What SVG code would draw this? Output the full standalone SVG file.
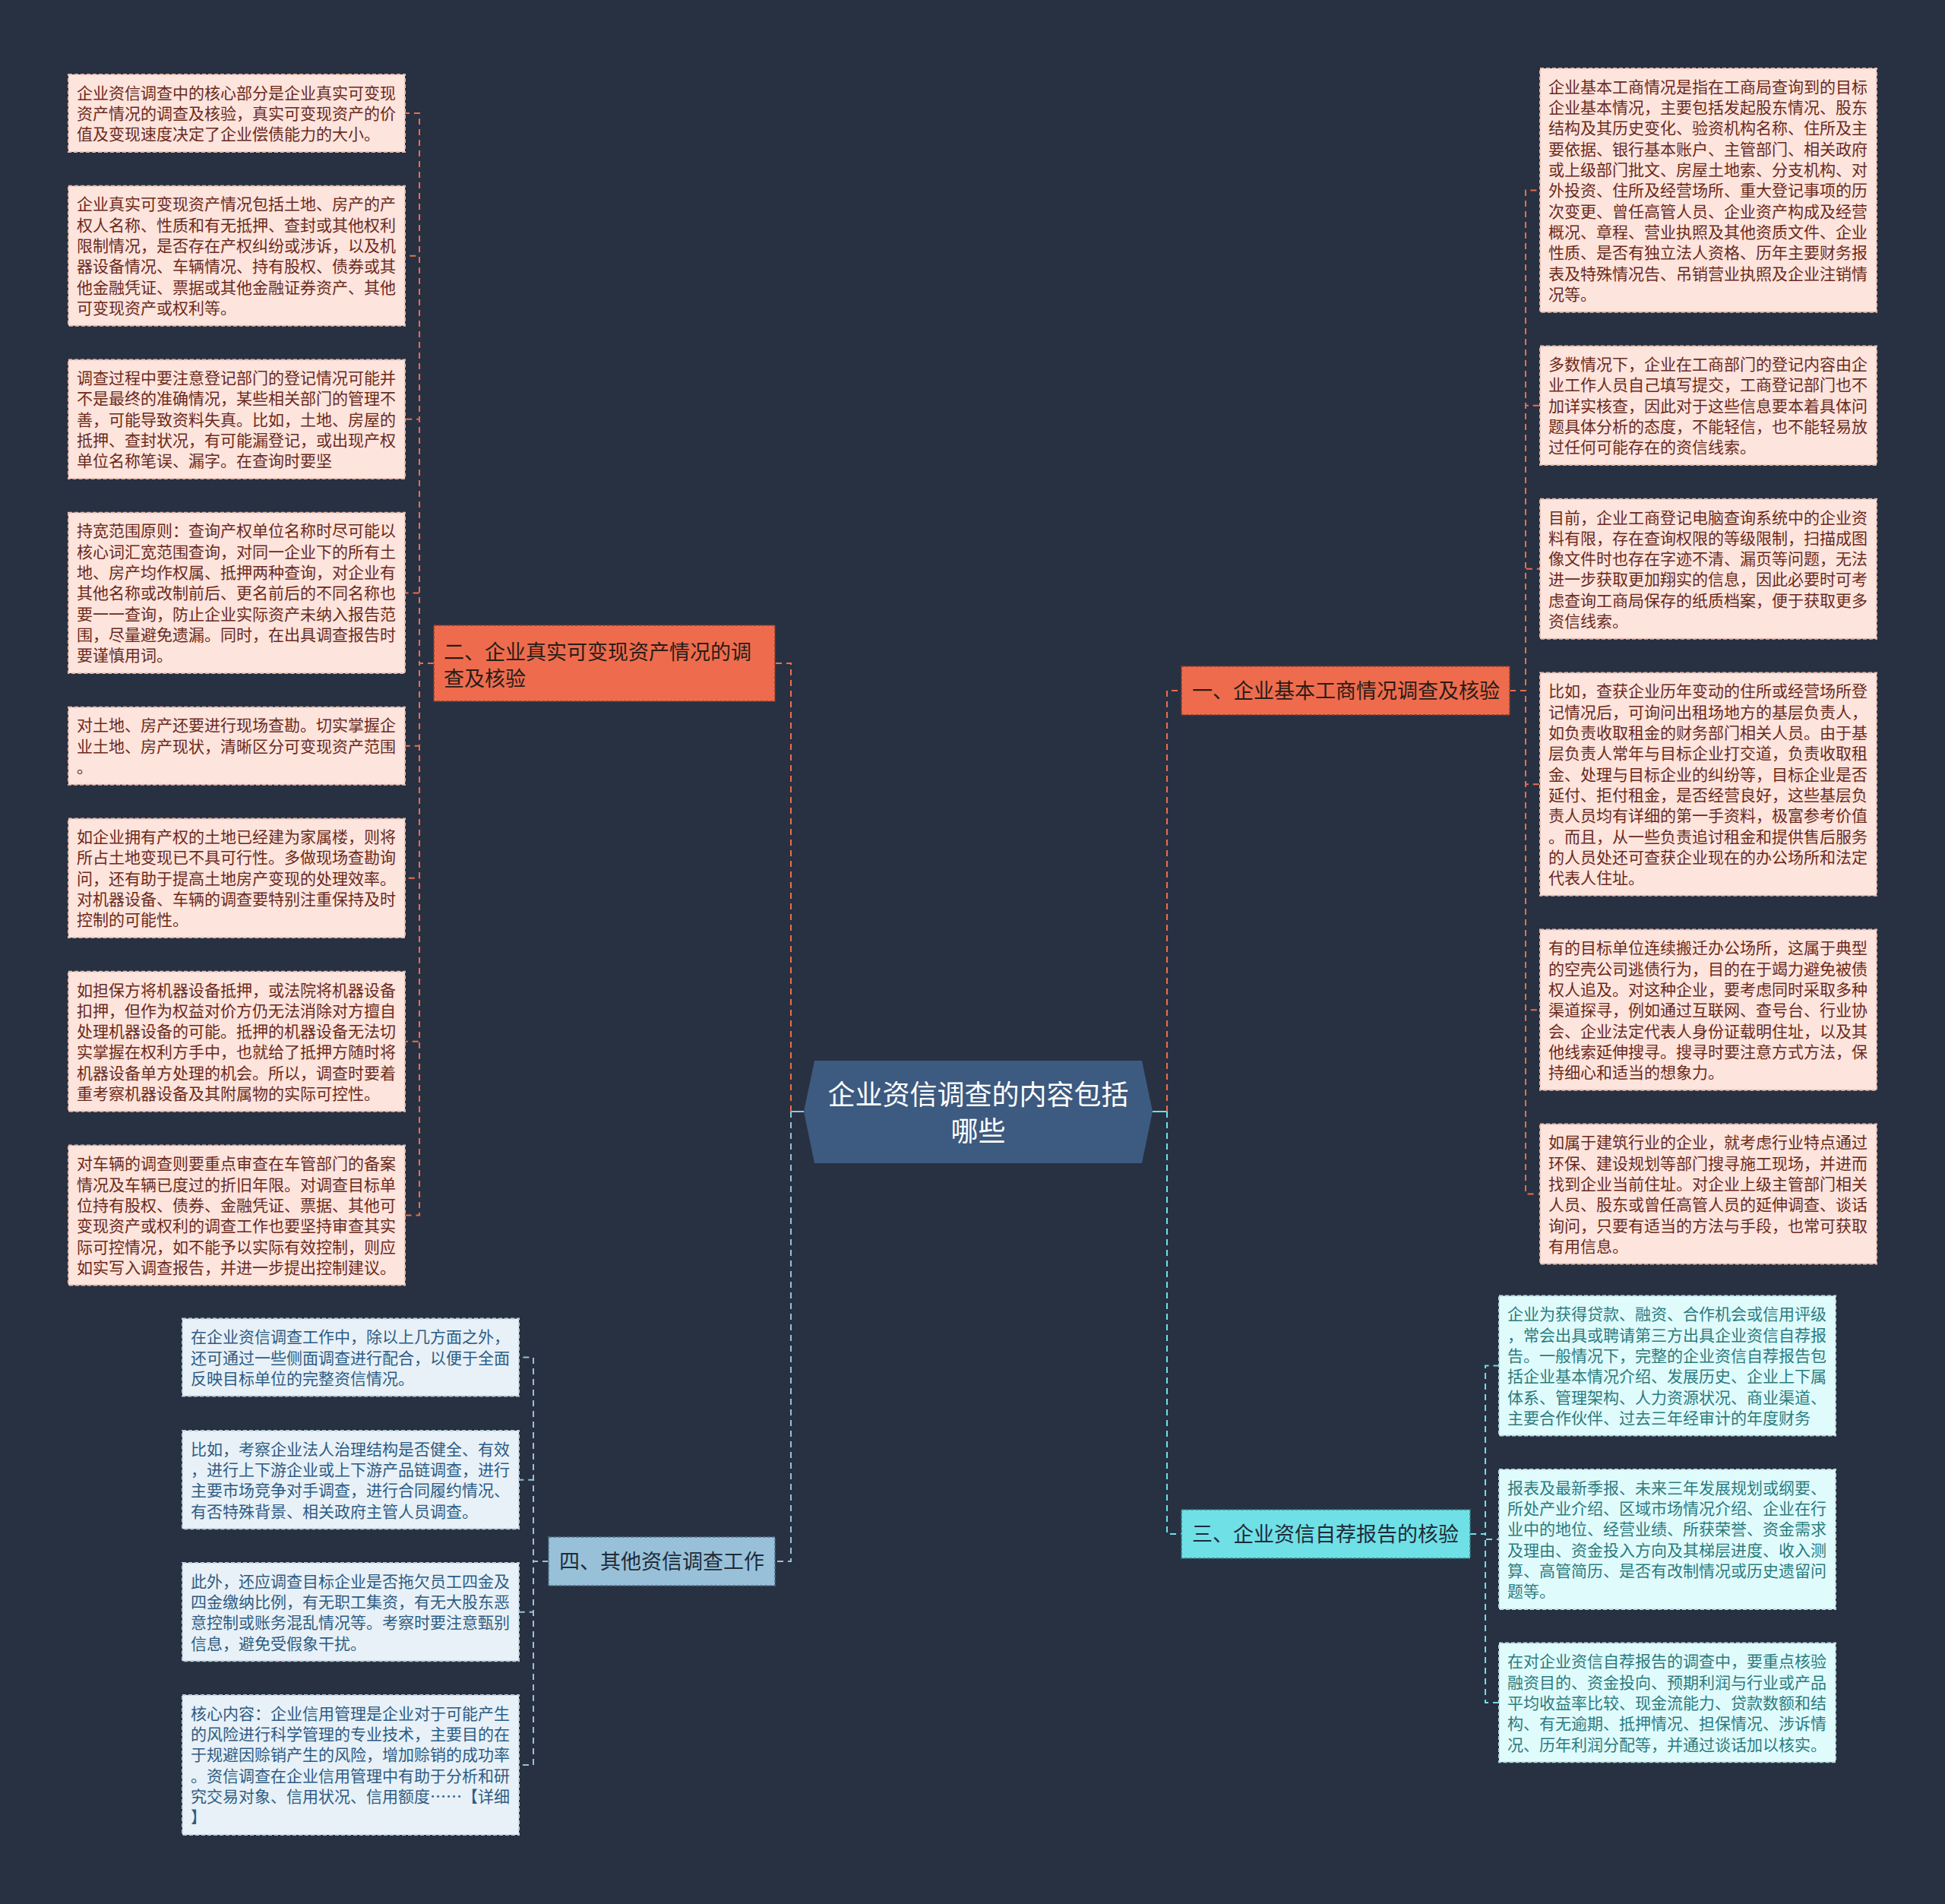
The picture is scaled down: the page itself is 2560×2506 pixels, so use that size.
<svg xmlns="http://www.w3.org/2000/svg" width="2560" height="2506" viewBox="0 0 2560 2506">
<style>
text{font-family:"Noto Sans CJK SC","Noto Sans",sans-serif}
.lp{fill:#fde4dc;stroke:#e6bfb2;stroke-width:2;stroke-dasharray:5 3}
.lt{fill:#e0fbfc;stroke:#b9dfe2;stroke-width:2;stroke-dasharray:5 3}
.lb{fill:#e8f1f7;stroke:#bcd0de;stroke-width:2;stroke-dasharray:5 3}
.tp{font-size:21px;fill:#6b2a1c}
.tt{font-size:21px;fill:#2b7c80}
.tb{font-size:21px;fill:#2e5c84}
.br{stroke-width:1.5;stroke-dasharray:4 2}
.bt{font-size:27px;fill:#2a1c18}
.c{fill:none;stroke-width:2;stroke-dasharray:8 6}
.co{stroke:#ee6c4d}
.cc{stroke:#6fe0e6}
.cb{stroke:#98c1d9}
</style>
<rect x="0" y="0" width="2560" height="2506" fill="#283142"/>
<g id="connectors">
<line x1="1041" y1="1463" x2="1058" y2="1463" stroke="#98c1d9" stroke-width="2"/>
<line x1="1517" y1="1463" x2="1536" y2="1463" stroke="#6fe0e6" stroke-width="2"/>
<path class="c co" d="M1041 1463 V873 H1020"/>
<path class="c cb" d="M1041 1463 V2055 H1020"/>
<path class="c co" d="M1536 1463 V909 H1555"/>
<path class="c cc" d="M1536 1463 V2019 H1555"/>
<path class="c co" d="M571 873 H552 V149 H533"/>
<path class="c co" d="M571 873 H552 V336.7 H533"/>
<path class="c co" d="M571 873 H552 V551.8 H533"/>
<path class="c co" d="M571 873 H552 V780.4 H533"/>
<path class="c co" d="M571 873 H552 V981.7 H533"/>
<path class="c co" d="M571 873 H552 V1155.8 H533"/>
<path class="c co" d="M571 873 H552 V1370.8 H533"/>
<path class="c co" d="M571 873 H552 V1599.5 H533"/>
<path class="c co" d="M1987 909 H2008 V250.4 H2027"/>
<path class="c co" d="M1987 909 H2008 V533.8 H2027"/>
<path class="c co" d="M1987 909 H2008 V748.8 H2027"/>
<path class="c co" d="M1987 909 H2008 V1032.2 H2027"/>
<path class="c co" d="M1987 909 H2008 V1329.2 H2027"/>
<path class="c co" d="M1987 909 H2008 V1571.5 H2027"/>
<path class="c cc" d="M1935 2019 H1955 V1797.5 H1973"/>
<path class="c cc" d="M1935 2019 H1955 V2026 H1973"/>
<path class="c cc" d="M1935 2019 H1955 V2241 H1973"/>
<path class="c cb" d="M722 2055 H702 V1786.6 H683"/>
<path class="c cb" d="M722 2055 H702 V1947.7 H683"/>
<path class="c cb" d="M722 2055 H702 V2121.7 H683"/>
<path class="c cb" d="M722 2055 H702 V2323 H683"/>
</g>
<g id="center">
<polygon points="1072,1396 1503,1396 1517,1463 1503,1531 1072,1531 1058,1463" fill="#3d5a80"/>
<text x="1287.5" y="1453.7" font-size="36" fill="#ffffff" text-anchor="middle">企业资信调查的内容包括<tspan x="1287.5" dy="48">哪些</tspan></text>
</g>
<g id="branch2">
<rect x="571" y="823" width="449" height="100" fill="#ee6c4d" class="br" stroke="#8a3b28"/>
<text x="584" y="868" class="bt">二、企业真实可变现资产情况的调<tspan x="584" dy="35">查及核验</tspan></text>
</g>
<g id="branch1">
<rect x="1555" y="877" width="432" height="64" fill="#ee6c4d" class="br" stroke="#8a3b28"/>
<text x="1569" y="919" class="bt">一、企业基本工商情况调查及核验</text>
</g>
<g id="branch3">
<rect x="1555" y="1987" width="380" height="64" fill="#6fe0e6" class="br" stroke="#2f7f84"/>
<text x="1569" y="2029" class="bt" fill="#1f2b38" style="fill:#1f2b38">三、企业资信自荐报告的核验</text>
</g>
<g id="branch4">
<rect x="722" y="2023" width="298" height="64" fill="#98c1d9" class="br" stroke="#4d6f88"/>
<text x="736" y="2065" class="bt" style="fill:#1f2b38">四、其他资信调查工作</text>
</g>
<g id="leaf-l1">
<rect x="90" y="98" width="443" height="102" class="lp"/>
<text x="101" y="129.7" class="tp">企业资信调查中的核心部分是企业真实可变现<tspan x="101" dy="27.33">资产情况的调查及核验，真实可变现资产的价</tspan><tspan x="101" dy="27.33">值及变现速度决定了企业偿债能力的大小。</tspan></text>
</g>
<g id="leaf-l2">
<rect x="90" y="244.7" width="443" height="184" class="lp"/>
<text x="101" y="276.4" class="tp">企业真实可变现资产情况包括土地、房产的产<tspan x="101" dy="27.33">权人名称、性质和有无抵押、查封或其他权利</tspan><tspan x="101" dy="27.33">限制情况，是否存在产权纠纷或涉诉，以及机</tspan><tspan x="101" dy="27.33">器设备情况、车辆情况、持有股权、债券或其</tspan><tspan x="101" dy="27.33">他金融凭证、票据或其他金融证券资产、其他</tspan><tspan x="101" dy="27.33">可变现资产或权利等。</tspan></text>
</g>
<g id="leaf-l3">
<rect x="90" y="473.4" width="443" height="156.7" class="lp"/>
<text x="101" y="505.1" class="tp">调查过程中要注意登记部门的登记情况可能并<tspan x="101" dy="27.33">不是最终的准确情况，某些相关部门的管理不</tspan><tspan x="101" dy="27.33">善，可能导致资料失真。比如，土地、房屋的</tspan><tspan x="101" dy="27.33">抵押、查封状况，有可能漏登记，或出现产权</tspan><tspan x="101" dy="27.33">单位名称笔误、漏字。在查询时要坚</tspan></text>
</g>
<g id="leaf-l4">
<rect x="90" y="674.7" width="443" height="211.3" class="lp"/>
<text x="101" y="706.4" class="tp">持宽范围原则：查询产权单位名称时尽可能以<tspan x="101" dy="27.33">核心词汇宽范围查询，对同一企业下的所有土</tspan><tspan x="101" dy="27.33">地、房产均作权属、抵押两种查询，对企业有</tspan><tspan x="101" dy="27.33">其他名称或改制前后、更名前后的不同名称也</tspan><tspan x="101" dy="27.33">要一一查询，防止企业实际资产未纳入报告范</tspan><tspan x="101" dy="27.33">围，尽量避免遗漏。同时，在出具调查报告时</tspan><tspan x="101" dy="27.33">要谨慎用词。</tspan></text>
</g>
<g id="leaf-l5">
<rect x="90" y="930.7" width="443" height="102" class="lp"/>
<text x="101" y="962.4" class="tp">对土地、房产还要进行现场查勘。切实掌握企<tspan x="101" dy="27.33">业土地、房产现状，清晰区分可变现资产范围</tspan><tspan x="101" dy="27.33">。</tspan></text>
</g>
<g id="leaf-l6">
<rect x="90" y="1077.4" width="443" height="156.7" class="lp"/>
<text x="101" y="1109.1" class="tp">如企业拥有产权的土地已经建为家属楼，则将<tspan x="101" dy="27.33">所占土地变现已不具可行性。多做现场查勘询</tspan><tspan x="101" dy="27.33">问，还有助于提高土地房产变现的处理效率。</tspan><tspan x="101" dy="27.33">对机器设备、车辆的调查要特别注重保持及时</tspan><tspan x="101" dy="27.33">控制的可能性。</tspan></text>
</g>
<g id="leaf-l7">
<rect x="90" y="1278.8" width="443" height="184" class="lp"/>
<text x="101" y="1310.5" class="tp">如担保方将机器设备抵押，或法院将机器设备<tspan x="101" dy="27.33">扣押，但作为权益对价方仍无法消除对方擅自</tspan><tspan x="101" dy="27.33">处理机器设备的可能。抵押的机器设备无法切</tspan><tspan x="101" dy="27.33">实掌握在权利方手中，也就给了抵押方随时将</tspan><tspan x="101" dy="27.33">机器设备单方处理的机会。所以，调查时要着</tspan><tspan x="101" dy="27.33">重考察机器设备及其附属物的实际可控性。</tspan></text>
</g>
<g id="leaf-l8">
<rect x="90" y="1507.5" width="443" height="184" class="lp"/>
<text x="101" y="1539.2" class="tp">对车辆的调查则要重点审查在车管部门的备案<tspan x="101" dy="27.33">情况及车辆已度过的折旧年限。对调查目标单</tspan><tspan x="101" dy="27.33">位持有股权、债券、金融凭证、票据、其他可</tspan><tspan x="101" dy="27.33">变现资产或权利的调查工作也要坚持审查其实</tspan><tspan x="101" dy="27.33">际可控情况，如不能予以实际有效控制，则应</tspan><tspan x="101" dy="27.33">如实写入调查报告，并进一步提出控制建议。</tspan></text>
</g>
<g id="leaf-r1">
<rect x="2027" y="90" width="443" height="320.7" class="lp"/>
<text x="2038" y="121.7" class="tp">企业基本工商情况是指在工商局查询到的目标<tspan x="2038" dy="27.33">企业基本情况，主要包括发起股东情况、股东</tspan><tspan x="2038" dy="27.33">结构及其历史变化、验资机构名称、住所及主</tspan><tspan x="2038" dy="27.33">要依据、银行基本账户、主管部门、相关政府</tspan><tspan x="2038" dy="27.33">或上级部门批文、房屋土地索、分支机构、对</tspan><tspan x="2038" dy="27.33">外投资、住所及经营场所、重大登记事项的历</tspan><tspan x="2038" dy="27.33">次变更、曾任高管人员、企业资产构成及经营</tspan><tspan x="2038" dy="27.33">概况、章程、营业执照及其他资质文件、企业</tspan><tspan x="2038" dy="27.33">性质、是否有独立法人资格、历年主要财务报</tspan><tspan x="2038" dy="27.33">表及特殊情况告、吊销营业执照及企业注销情</tspan><tspan x="2038" dy="27.33">况等。</tspan></text>
</g>
<g id="leaf-r2">
<rect x="2027" y="455.4" width="443" height="156.7" class="lp"/>
<text x="2038" y="487.1" class="tp">多数情况下，企业在工商部门的登记内容由企<tspan x="2038" dy="27.33">业工作人员自己填写提交，工商登记部门也不</tspan><tspan x="2038" dy="27.33">加详实核查，因此对于这些信息要本着具体问</tspan><tspan x="2038" dy="27.33">题具体分析的态度，不能轻信，也不能轻易放</tspan><tspan x="2038" dy="27.33">过任何可能存在的资信线索。</tspan></text>
</g>
<g id="leaf-r3">
<rect x="2027" y="656.8" width="443" height="184" class="lp"/>
<text x="2038" y="688.5" class="tp">目前，企业工商登记电脑查询系统中的企业资<tspan x="2038" dy="27.33">料有限，存在查询权限的等级限制，扫描成图</tspan><tspan x="2038" dy="27.33">像文件时也存在字迹不清、漏页等问题，无法</tspan><tspan x="2038" dy="27.33">进一步获取更加翔实的信息，因此必要时可考</tspan><tspan x="2038" dy="27.33">虑查询工商局保存的纸质档案，便于获取更多</tspan><tspan x="2038" dy="27.33">资信线索。</tspan></text>
</g>
<g id="leaf-r4">
<rect x="2027" y="885.5" width="443" height="293.3" class="lp"/>
<text x="2038" y="917.2" class="tp">比如，查获企业历年变动的住所或经营场所登<tspan x="2038" dy="27.33">记情况后，可询问出租场地方的基层负责人，</tspan><tspan x="2038" dy="27.33">如负责收取租金的财务部门相关人员。由于基</tspan><tspan x="2038" dy="27.33">层负责人常年与目标企业打交道，负责收取租</tspan><tspan x="2038" dy="27.33">金、处理与目标企业的纠纷等，目标企业是否</tspan><tspan x="2038" dy="27.33">延付、拒付租金，是否经营良好，这些基层负</tspan><tspan x="2038" dy="27.33">责人员均有详细的第一手资料，极富参考价值</tspan><tspan x="2038" dy="27.33">。而且，从一些负责追讨租金和提供售后服务</tspan><tspan x="2038" dy="27.33">的人员处还可查获企业现在的办公场所和法定</tspan><tspan x="2038" dy="27.33">代表人住址。</tspan></text>
</g>
<g id="leaf-r5">
<rect x="2027" y="1223.5" width="443" height="211.3" class="lp"/>
<text x="2038" y="1255.2" class="tp">有的目标单位连续搬迁办公场所，这属于典型<tspan x="2038" dy="27.33">的空壳公司逃债行为，目的在于竭力避免被债</tspan><tspan x="2038" dy="27.33">权人追及。对这种企业，要考虑同时采取多种</tspan><tspan x="2038" dy="27.33">渠道探寻，例如通过互联网、查号台、行业协</tspan><tspan x="2038" dy="27.33">会、企业法定代表人身份证载明住址，以及其</tspan><tspan x="2038" dy="27.33">他线索延伸搜寻。搜寻时要注意方式方法，保</tspan><tspan x="2038" dy="27.33">持细心和适当的想象力。</tspan></text>
</g>
<g id="leaf-r6">
<rect x="2027" y="1479.5" width="443" height="184" class="lp"/>
<text x="2038" y="1511.2" class="tp">如属于建筑行业的企业，就考虑行业特点通过<tspan x="2038" dy="27.33">环保、建设规划等部门搜寻施工现场，并进而</tspan><tspan x="2038" dy="27.33">找到企业当前住址。对企业上级主管部门相关</tspan><tspan x="2038" dy="27.33">人员、股东或曾任高管人员的延伸调查、谈话</tspan><tspan x="2038" dy="27.33">询问，只要有适当的方法与手段，也常可获取</tspan><tspan x="2038" dy="27.33">有用信息。</tspan></text>
</g>
<g id="leaf-t1">
<rect x="1973" y="1705.5" width="443" height="184" class="lt"/>
<text x="1984" y="1737.2" class="tt">企业为获得贷款、融资、合作机会或信用评级<tspan x="1984" dy="27.33">，常会出具或聘请第三方出具企业资信自荐报</tspan><tspan x="1984" dy="27.33">告。一般情况下，完整的企业资信自荐报告包</tspan><tspan x="1984" dy="27.33">括企业基本情况介绍、发展历史、企业上下属</tspan><tspan x="1984" dy="27.33">体系、管理架构、人力资源状况、商业渠道、</tspan><tspan x="1984" dy="27.33">主要合作伙伴、过去三年经审计的年度财务</tspan></text>
</g>
<g id="leaf-t2">
<rect x="1973" y="1934" width="443" height="184" class="lt"/>
<text x="1984" y="1965.7" class="tt">报表及最新季报、未来三年发展规划或纲要、<tspan x="1984" dy="27.33">所处产业介绍、区域市场情况介绍、企业在行</tspan><tspan x="1984" dy="27.33">业中的地位、经营业绩、所获荣誉、资金需求</tspan><tspan x="1984" dy="27.33">及理由、资金投入方向及其梯层进度、收入测</tspan><tspan x="1984" dy="27.33">算、高管简历、是否有改制情况或历史遗留问</tspan><tspan x="1984" dy="27.33">题等。</tspan></text>
</g>
<g id="leaf-t3">
<rect x="1973" y="2162.6" width="443" height="156.7" class="lt"/>
<text x="1984" y="2194.3" class="tt">在对企业资信自荐报告的调查中，要重点核验<tspan x="1984" dy="27.33">融资目的、资金投向、预期利润与行业或产品</tspan><tspan x="1984" dy="27.33">平均收益率比较、现金流能力、贷款数额和结</tspan><tspan x="1984" dy="27.33">构、有无逾期、抵押情况、担保情况、涉诉情</tspan><tspan x="1984" dy="27.33">况、历年利润分配等，并通过谈话加以核实。</tspan></text>
</g>
<g id="leaf-b1">
<rect x="240" y="1735.6" width="443" height="102" class="lb"/>
<text x="251" y="1767.3" class="tb">在企业资信调查工作中，除以上几方面之外，<tspan x="251" dy="27.33">还可通过一些侧面调查进行配合，以便于全面</tspan><tspan x="251" dy="27.33">反映目标单位的完整资信情况。</tspan></text>
</g>
<g id="leaf-b2">
<rect x="240" y="1883" width="443" height="129.3" class="lb"/>
<text x="251" y="1914.7" class="tb">比如，考察企业法人治理结构是否健全、有效<tspan x="251" dy="27.33">，进行上下游企业或上下游产品链调查，进行</tspan><tspan x="251" dy="27.33">主要市场竞争对手调查，进行合同履约情况、</tspan><tspan x="251" dy="27.33">有否特殊背景、相关政府主管人员调查。</tspan></text>
</g>
<g id="leaf-b3">
<rect x="240" y="2057" width="443" height="129.3" class="lb"/>
<text x="251" y="2088.7" class="tb">此外，还应调查目标企业是否拖欠员工四金及<tspan x="251" dy="27.33">四金缴纳比例，有无职工集资，有无大股东恶</tspan><tspan x="251" dy="27.33">意控制或账务混乱情况等。考察时要注意甄别</tspan><tspan x="251" dy="27.33">信息，避免受假象干扰。</tspan></text>
</g>
<g id="leaf-b4">
<rect x="240" y="2231" width="443" height="184" class="lb"/>
<text x="251" y="2262.7" class="tb">核心内容：企业信用管理是企业对于可能产生<tspan x="251" dy="27.33">的风险进行科学管理的专业技术，主要目的在</tspan><tspan x="251" dy="27.33">于规避因赊销产生的风险，增加赊销的成功率</tspan><tspan x="251" dy="27.33">。资信调查在企业信用管理中有助于分析和研</tspan><tspan x="251" dy="27.33">究交易对象、信用状况、信用额度……【详细</tspan><tspan x="251" dy="27.33">】</tspan></text>
</g>
</svg>
